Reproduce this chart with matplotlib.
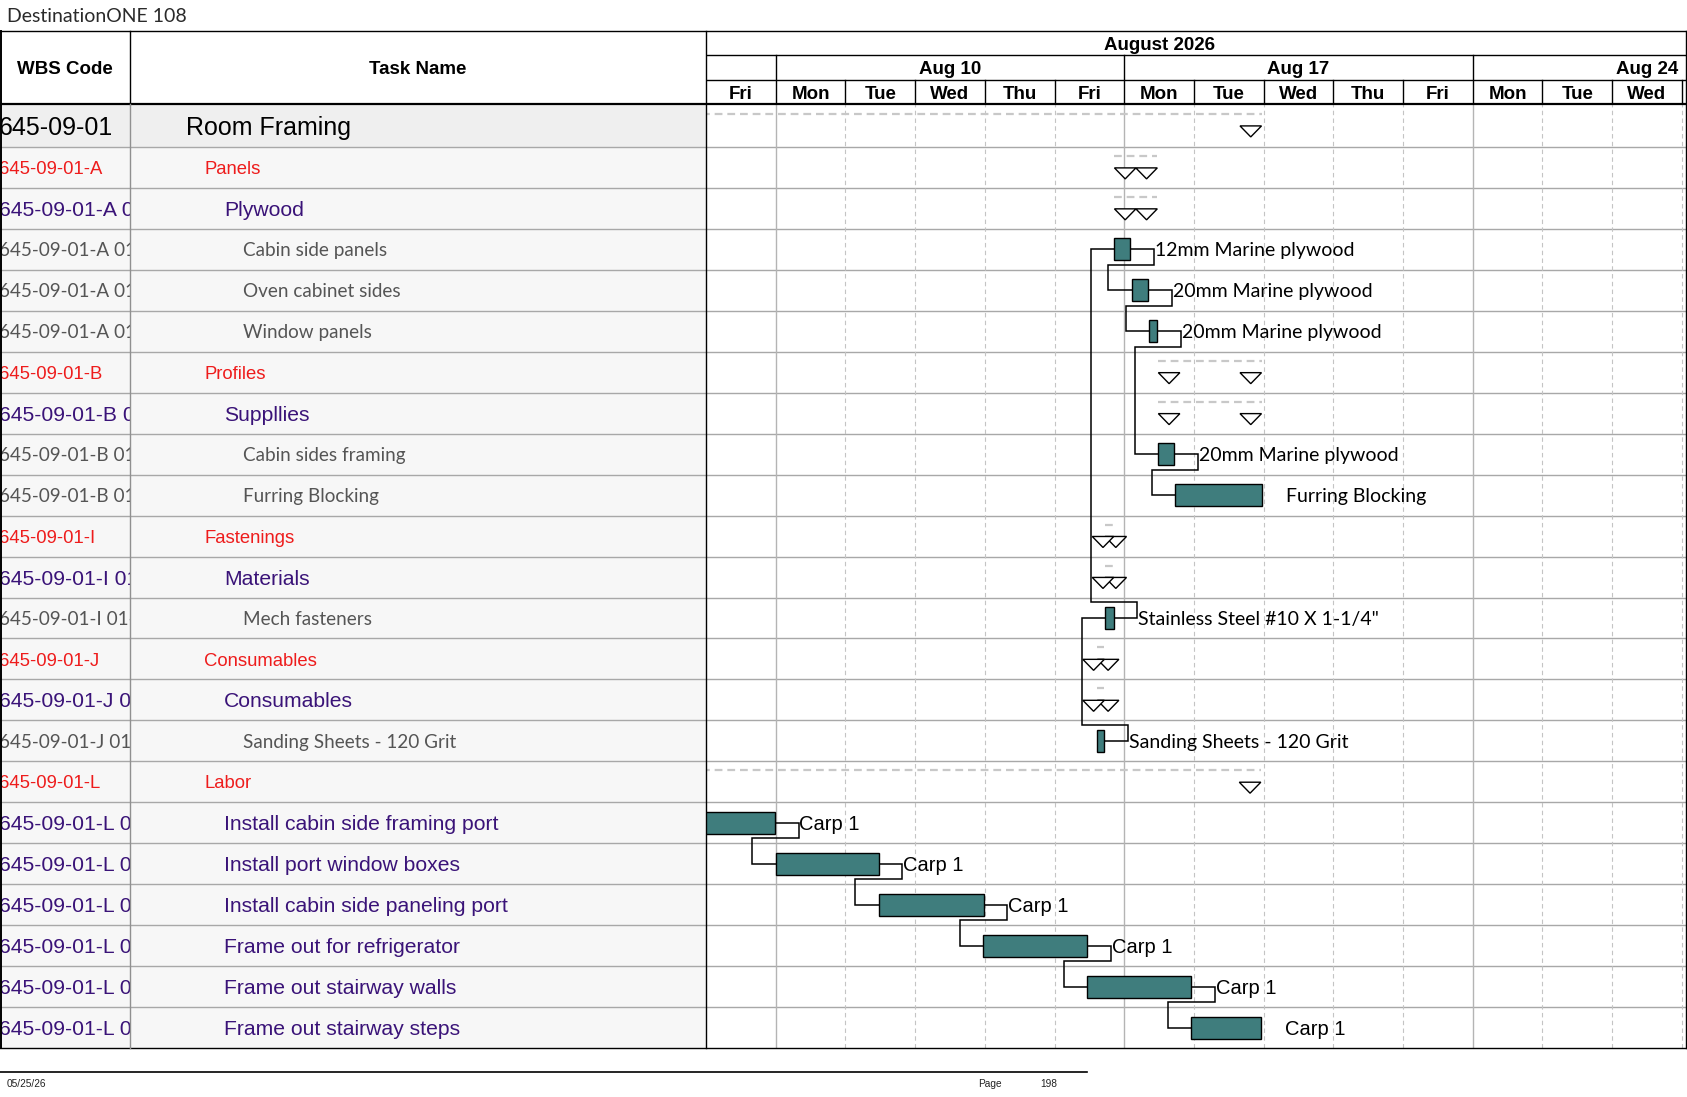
import matplotlib
matplotlib.use("Agg")
import matplotlib.pyplot as plt
from matplotlib.patches import Polygon
from matplotlib.transforms import offset_copy

# ---- data -----------------------------------------------------------------
wbs_codes = [
    "645-09-01",
    "645-09-01-A", "645-09-01-A 01", "645-09-01-A 01-01", "645-09-01-A 01-02", "645-09-01-A 01-03",
    "645-09-01-B", "645-09-01-B 01", "645-09-01-B 01-01", "645-09-01-B 01-02",
    "645-09-01-I", "645-09-01-I 01", "645-09-01-I 01-01",
    "645-09-01-J", "645-09-01-J 01", "645-09-01-J 01-01",
    "645-09-01-L", "645-09-01-L 01", "645-09-01-L 02", "645-09-01-L 03",
    "645-09-01-L 04", "645-09-01-L 05", "645-09-01-L 06",
]
task_names = [
    "Room Framing",
    "Panels", "Plywood", "Cabin side panels", "Oven cabinet sides", "Window panels",
    "Profiles", "Suppllies", "Cabin sides framing", "Furring Blocking",
    "Fastenings", "Materials", "Mech fasteners",
    "Consumables", "Consumables", "Sanding Sheets - 120 Grit",
    "Labor", "Install cabin side framing port", "Install port window boxes",
    "Install cabin side paneling port", "Frame out for refrigerator",
    "Frame out stairway walls", "Frame out stairway steps",
]
levels = [0, 1, 2, 3, 3, 3, 1, 2, 3, 3, 1, 2, 3, 1, 2, 3, 1, 2, 2, 2, 2, 2, 2]

# bars in working-day units, day 0 = Fri Aug 7
bar_rows = [3, 4, 5, 8, 9, 12, 15, 17, 18, 19, 20, 21, 22]
bar_start = [5.86, 6.11, 6.36, 6.49, 6.73, 5.725, 5.615, -0.6, 1.0, 2.48, 3.98, 5.47, 6.96]
bar_finish = [6.09, 6.345, 6.475, 6.72, 7.97, 5.85, 5.715, 0.99, 2.475, 3.985, 5.47, 6.96, 7.96]
bar_labels = [
    "12mm Marine plywood", "20mm Marine plywood", "20mm Marine plywood",
    "20mm Marine plywood", "Furring Blocking", 'Stainless Steel #10 X 1-1/4"',
    "Sanding Sheets - 120 Grit",
    "Carp 1", "Carp 1", "Carp 1", "Carp 1", "Carp 1", "Carp 1",
]
# finish-to-start links (predecessor row, successor row)
links = [(12, 3), (3, 4), (4, 5), (5, 8), (8, 9), (15, 12),
         (17, 18), (18, 19), (19, 20), (20, 21), (21, 22)]

month_label = "August 2026"
week_labels = ["Aug 10", "Aug 17", "Aug 24"]
week_starts = [1, 6, 11]
day_names = ["Fri", "Mon", "Tue", "Wed", "Thu", "Fri", "Mon", "Tue", "Wed",
             "Thu", "Fri", "Mon", "Tue", "Wed"]

# ---- layout ---------------------------------------------------------------
W, H = 1687, 1097
TABLE_TOP, HEAD_BOTTOM, BODY_BOTTOM = 31, 104, 1048
WBS_RIGHT, TASK_RIGHT, GANTT_RIGHT = 130, 706, 1686
DAY_PX = 69.7
ROW_PX = 40.95

ARIAL = "Liberation Sans"
CALIBRI = "Lato"
TEAL = "#3f7d7d"
GRID = "#a8a8a8"

level_style = {
    0: dict(color="black", size=18, family=ARIAL),
    1: dict(color="#ee1c1c", size=13.3, family=ARIAL),
    2: dict(color="#3a1378", size=15.2, family=ARIAL),
    3: dict(color="#555555", size=13.6, family=CALIBRI),
}
indent = {0: 56, 1: 74, 2: 94, 3: 113}

n_rows = len(task_names)


def row_top(i):
    return 0.0 if i == 0 else 1.05 + (i - 1)


def row_h(i):
    return 1.05 if i == 0 else 1.0


def row_center(i):
    return row_top(i) + row_h(i) / 2


Y_TOTAL = row_top(n_rows - 1) + 1.0
X_TOTAL = (GANTT_RIGHT - TASK_RIGHT) / DAY_PX


def box(x0, y0, x1, y1):
    return [x0 / W, 1 - y1 / H, (x1 - x0) / W, (y1 - y0) / H]


def put_text(ax, fig, x, y, s, size, **kw):
    # baseline placed so that the cap height is centred on y
    tr = offset_copy(ax.transData, fig=fig, y=-0.36 * size, units="points")
    return ax.text(x, y, s, fontsize=size, va="baseline", transform=tr, **kw)


fig = plt.figure(figsize=(W / 100, H / 100), dpi=100)
fig.patch.set_facecolor("white")

# ---- table columns --------------------------------------------------------
ax_wbs = fig.add_axes(box(0, HEAD_BOTTOM, WBS_RIGHT, BODY_BOTTOM))
ax_task = fig.add_axes(box(WBS_RIGHT, HEAD_BOTTOM, TASK_RIGHT, BODY_BOTTOM))
for ax, width in ((ax_wbs, WBS_RIGHT), (ax_task, TASK_RIGHT - WBS_RIGHT)):
    ax.set_xlim(0, width)
    ax.set_ylim(Y_TOTAL, 0)
    ax.axis("off")
    for i in range(n_rows):
        ax.axhspan(row_top(i), row_top(i) + row_h(i),
                   color="#efefef" if i == 0 else "#f7f7f7", lw=0)
    for i in range(1, n_rows):
        ax.axhline(row_top(i), color=GRID, lw=1)

for i in range(n_rows):
    st = level_style[levels[i]]
    put_text(ax_wbs, fig, -1, row_center(i), wbs_codes[i], st["size"],
             color=st["color"], family=st["family"], clip_on=True)
    put_text(ax_task, fig, indent[levels[i]], row_center(i), task_names[i], st["size"],
             color=st["color"], family=st["family"], clip_on=True)

# ---- gantt body -----------------------------------------------------------
ax = fig.add_axes(box(TASK_RIGHT, HEAD_BOTTOM, GANTT_RIGHT, BODY_BOTTOM))
ax.set_xlim(0, X_TOTAL)
ax.set_ylim(Y_TOTAL, 0)
ax.axis("off")
for i in range(1, n_rows):
    ax.axhline(row_top(i), color=GRID, lw=1)
for d in range(1, 15):
    if d in week_starts:
        ax.axvline(d, color="#b4b4b4", lw=1)
    else:
        ax.axvline(d, color="#c4c4c4", lw=0.8, dashes=(4, 3))

bar_of = {r: k for k, r in enumerate(bar_rows)}
BAR_H = 22 / ROW_PX
centers = [row_center(r) for r in bar_rows]
ax.barh(centers, [f - s for s, f in zip(bar_start, bar_finish)], left=bar_start,
        height=BAR_H, color=TEAL, edgecolor="black", lw=1, zorder=4)

# summary rows: dashed line plus start/end triangles
TRI_W = 21.5 / DAY_PX
TRI_H = 11 / ROW_PX
for i in range(n_rows):
    if i in bar_of:
        continue
    kids = []
    j = i + 1
    while j < n_rows and levels[j] > levels[i]:
        if j in bar_of:
            kids.append(bar_of[j])
        j += 1
    if not kids:
        continue
    s = min(bar_start[k] for k in kids)
    f = max(bar_finish[k] for k in kids)
    c = row_center(i)
    ax.plot([s, f], [c - 0.28, c - 0.28], color="#c8c8c8", lw=1.6,
            dashes=(3.5, 2.2), zorder=3)
    for x0 in (s, f - TRI_W):
        tri = Polygon([(x0, c + 0.01), (x0 + TRI_W, c + 0.01), (x0 + TRI_W / 2, c + 0.01 + TRI_H)],
                      closed=True, facecolor="white", edgecolor="black", lw=1, zorder=5)
        ax.add_patch(tri)

# finish-to-start link lines
OFF_X = 23.5 / DAY_PX
OFF_Y = 4.8 / ROW_PX
for p, q in links:
    kp, kq = bar_of[p], bar_of[q]
    x0, y0 = bar_finish[kp], row_center(p)
    xr = x0 + OFF_X
    xl = bar_start[kq] - OFF_X
    if q > p:
        yb = row_top(p) + row_h(p) - OFF_Y
    else:
        yb = row_top(p) + OFF_Y
    yq = row_center(q)
    ax.plot([x0, xr, xr, xl, xl, bar_start[kq]], [y0, y0, yb, yb, yq, yq],
            color="black", lw=1.1, zorder=3, solid_joinstyle="miter")

for k, r in enumerate(bar_rows):
    if levels[r] == 3:
        put_text(ax, fig, bar_finish[k] + 0.35, row_center(r), bar_labels[k], 14,
                 family=CALIBRI, color="black", zorder=6)
    else:
        put_text(ax, fig, bar_finish[k] + 0.35, row_center(r), bar_labels[k], 14.5,
                 family=ARIAL, color="black", zorder=6)

# ---- timescale header -----------------------------------------------------
axh = fig.add_axes(box(TASK_RIGHT, TABLE_TOP, GANTT_RIGHT, HEAD_BOTTOM))
axh.set_xlim(0, X_TOTAL)
axh.set_ylim(3, 0)
axh.axis("off")
axh.axhline(1, color="black", lw=1)
axh.axhline(2, color="black", lw=1)
for d in range(1, 15):
    top = 1 if d in week_starts else 2
    axh.plot([d, d], [top, 3], color="black", lw=1)
put_text(axh, fig, 6.5, 0.5, month_label, 13.5, family=ARIAL, fontweight="bold", ha="center")
for lab, ws in zip(week_labels, week_starts):
    put_text(axh, fig, ws + 2.5, 1.5, lab, 13.5, family=ARIAL, fontweight="bold", ha="center")
for d, name in enumerate(day_names):
    put_text(axh, fig, d + 0.5, 2.5, name, 13.5, family=ARIAL, fontweight="bold", ha="center")

# left header
axl = fig.add_axes(box(0, TABLE_TOP, TASK_RIGHT, HEAD_BOTTOM))
axl.set_xlim(0, TASK_RIGHT)
axl.set_ylim(1, 0)
axl.axis("off")
put_text(axl, fig, WBS_RIGHT / 2, 0.5, "WBS Code", 13.5, family=ARIAL, fontweight="bold", ha="center")
put_text(axl, fig, (WBS_RIGHT + TASK_RIGHT) / 2, 0.5, "Task Name", 13.5, family=ARIAL,
         fontweight="bold", ha="center")

# ---- borders, title, footer -----------------------------------------------
top = fig.add_axes([0, 0, 1, 1])
top.set_xlim(0, W)
top.set_ylim(H, 0)
top.axis("off")
top.patch.set_alpha(0)
top.plot([0, GANTT_RIGHT], [TABLE_TOP, TABLE_TOP], color="black", lw=1)
top.plot([0, GANTT_RIGHT], [HEAD_BOTTOM, HEAD_BOTTOM], color="black", lw=1.6)
top.plot([0, GANTT_RIGHT], [BODY_BOTTOM, BODY_BOTTOM], color="black", lw=1)
top.plot([1, 1], [TABLE_TOP, BODY_BOTTOM], color="black", lw=1.4)
top.plot([WBS_RIGHT, WBS_RIGHT], [TABLE_TOP, HEAD_BOTTOM], color="black", lw=1)
top.plot([WBS_RIGHT, WBS_RIGHT], [HEAD_BOTTOM, BODY_BOTTOM], color="#909090", lw=1)
top.plot([TASK_RIGHT, TASK_RIGHT], [TABLE_TOP, BODY_BOTTOM], color="black", lw=1)
top.plot([GANTT_RIGHT, GANTT_RIGHT], [TABLE_TOP, BODY_BOTTOM], color="black", lw=1)
top.plot([0, 1087], [1072, 1072], color="black", lw=1.2)

put_text(top, fig, 7, 15.5, "DestinationONE 108", 14, family=CALIBRI, color="#2a2a2a")
top.text(7, 1084, "05/25/26", fontsize=7.3, family=ARIAL, va="center", color="#222222")
top.text(978, 1084, "Page", fontsize=7.3, family=ARIAL, va="center", color="#222222")
top.text(1040, 1084, "198", fontsize=7.3, family=ARIAL, va="center", color="#222222")

fig.savefig("out.png", dpi=100)
